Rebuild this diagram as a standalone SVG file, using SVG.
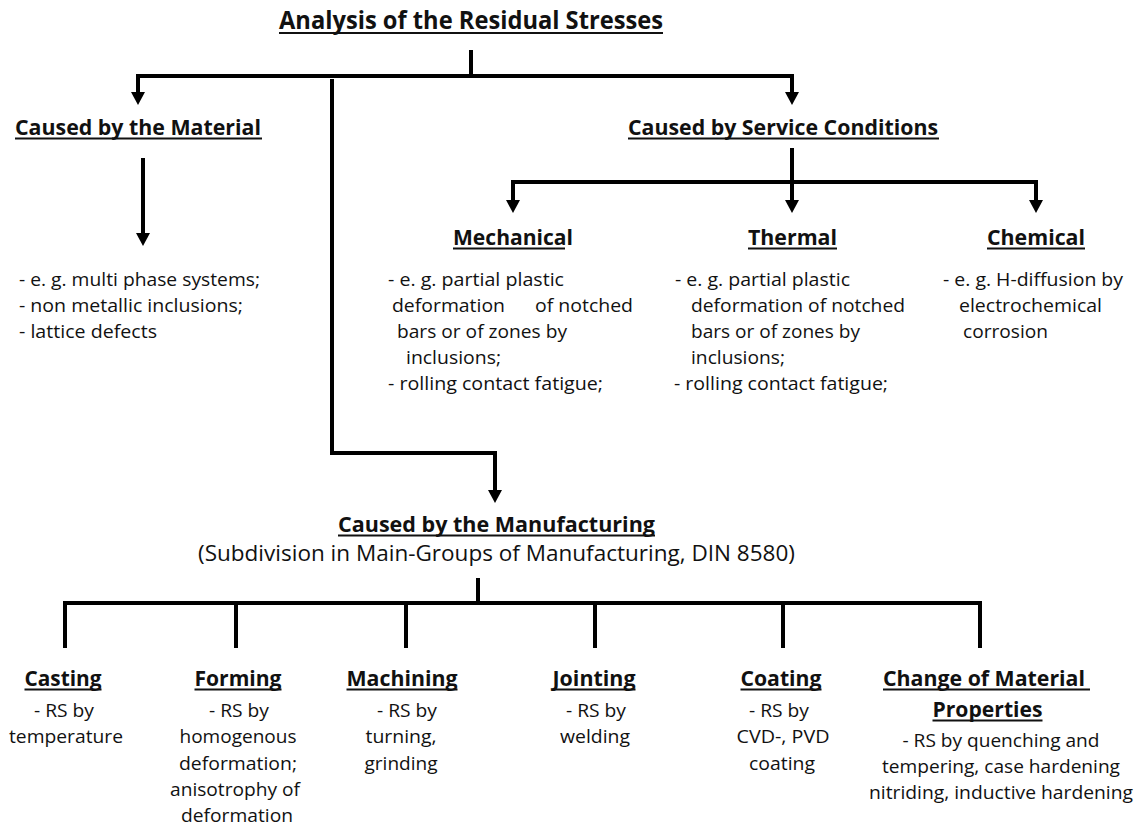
<svg xmlns="http://www.w3.org/2000/svg" width="1138" height="827" viewBox="0 0 1138 827">
<style>
text{font-family:"Open Sans","Liberation Sans",sans-serif;fill:#111}
.b{font-size:19px}
.h{font-size:22px;font-weight:bold}
.t{font-size:25px;font-weight:bold}
.s{font-size:22px}
.m{text-anchor:middle}
.u{stroke:#111;stroke-width:1.8}
.c{stroke:#000;stroke-width:4;fill:none;stroke-linejoin:miter}
</style>
<defs>
<marker id="ah" markerUnits="userSpaceOnUse" markerWidth="14" markerHeight="14" refX="0" refY="7" orient="auto" viewBox="0 0 14 14">
<path d="M0,0 L13,7 L0,14 z" fill="#000"/>
</marker>
</defs>
<rect width="1138" height="827" fill="#fff"/>

<g id="connectors">
<path class="c" d="M471,50 V76"/>
<path class="c" d="M471,76 H138 V92" marker-end="url(#ah)"/>
<path class="c" d="M471,76 H792 V92" marker-end="url(#ah)"/>
<path class="c" d="M143,158 V233" marker-end="url(#ah)"/>
<path class="c" d="M332,79 V453 H495 V490" marker-end="url(#ah)"/>
<path class="c" d="M792,148 V182"/>
<path class="c" d="M513,200 V182 H1036 V200" marker-end="url(#ah)"/>
<path class="c" d="M513,182 V200" marker-end="url(#ah)"/>
<path class="c" d="M792,182 V200" marker-end="url(#ah)"/>
<path class="c" d="M478,578 V603"/>
<path class="c" d="M65,648 V603 H980 V648"/>
<path class="c" d="M236,603 V648"/>
<path class="c" d="M406,603 V648"/>
<path class="c" d="M595,603 V648"/>
<path class="c" d="M783,603 V648"/>
</g>

<g id="title">
<text class="t" x="279" y="29" textLength="384" lengthAdjust="spacingAndGlyphs">Analysis of the Residual Stresses</text>
<line class="u" x1="279" y1="33" x2="663" y2="33"/>
</g>

<g id="material">
<text class="h" x="15" y="135" textLength="246" lengthAdjust="spacingAndGlyphs">Caused by the Material</text>
<line class="u" x1="15" y1="138.5" x2="262" y2="138.5"/>
<text class="b" x="19" y="286" textLength="241" lengthAdjust="spacingAndGlyphs">- e. g. multi phase systems;</text>
<text class="b" x="19" y="312" textLength="224" lengthAdjust="spacingAndGlyphs">- non metallic inclusions;</text>
<text class="b" x="19" y="338" textLength="138" lengthAdjust="spacingAndGlyphs">- lattice defects</text>
</g>

<g id="service">
<text class="h" x="628" y="135" textLength="310" lengthAdjust="spacingAndGlyphs">Caused by Service Conditions</text>
<line class="u" x1="628" y1="138.5" x2="939" y2="138.5"/>
</g>

<g id="mechanical">
<text class="h" x="453" y="245" textLength="120" lengthAdjust="spacingAndGlyphs">Mechanical</text>
<line class="u" x1="453" y1="248.5" x2="565" y2="248.5"/>
<text class="b" x="388" y="286" textLength="176" lengthAdjust="spacingAndGlyphs">- e. g. partial plastic</text>
<text class="b" x="392" y="312" textLength="113" lengthAdjust="spacingAndGlyphs">deformation</text>
<text class="b" x="535" y="312" textLength="98" lengthAdjust="spacingAndGlyphs">of notched</text>
<text class="b" x="397" y="338" textLength="170" lengthAdjust="spacingAndGlyphs">bars or of zones by</text>
<text class="b" x="406" y="364" textLength="95" lengthAdjust="spacingAndGlyphs">inclusions;</text>
<text class="b" x="388" y="390" textLength="215" lengthAdjust="spacingAndGlyphs">- rolling contact fatigue;</text>
</g>

<g id="thermal">
<text class="h" x="748" y="245" textLength="89" lengthAdjust="spacingAndGlyphs">Thermal</text>
<line class="u" x1="748" y1="248.5" x2="837" y2="248.5"/>
<text class="b" x="675" y="286" textLength="175" lengthAdjust="spacingAndGlyphs">- e. g. partial plastic</text>
<text class="b" x="691" y="312" textLength="214" lengthAdjust="spacingAndGlyphs">deformation of notched</text>
<text class="b" x="691" y="338" textLength="169" lengthAdjust="spacingAndGlyphs">bars or of zones by</text>
<text class="b" x="691" y="364" textLength="94" lengthAdjust="spacingAndGlyphs">inclusions;</text>
<text class="b" x="674" y="390" textLength="214" lengthAdjust="spacingAndGlyphs">- rolling contact fatigue;</text>
</g>

<g id="chemical">
<text class="h" x="987" y="245" textLength="98" lengthAdjust="spacingAndGlyphs">Chemical</text>
<line class="u" x1="987" y1="248.5" x2="1085" y2="248.5"/>
<text class="b" x="943" y="286" textLength="180" lengthAdjust="spacingAndGlyphs">- e. g. H-diffusion by</text>
<text class="b" x="959" y="312" textLength="143" lengthAdjust="spacingAndGlyphs">electrochemical</text>
<text class="b" x="963" y="338" textLength="85" lengthAdjust="spacingAndGlyphs">corrosion</text>
</g>

<g id="manufacturing">
<text class="h" x="338" y="532" textLength="317" lengthAdjust="spacingAndGlyphs">Caused by the Manufacturing</text>
<line class="u" x1="338" y1="535.5" x2="655" y2="535.5"/>
<text class="s" x="198" y="561" textLength="597" lengthAdjust="spacingAndGlyphs">(Subdivision in Main-Groups of Manufacturing, DIN 8580)</text>
</g>

<g id="casting">
<text class="h m" x="63" y="686" textLength="77" lengthAdjust="spacingAndGlyphs">Casting</text>
<line class="u" x1="24.5" y1="689.5" x2="101.5" y2="689.5"/>
<text class="b m" x="64" y="717" textLength="60" lengthAdjust="spacingAndGlyphs">- RS by</text>
<text class="b m" x="66" y="743" textLength="114" lengthAdjust="spacingAndGlyphs">temperature</text>
</g>

<g id="forming">
<text class="h m" x="238" y="686" textLength="87" lengthAdjust="spacingAndGlyphs">Forming</text>
<line class="u" x1="194.5" y1="689.5" x2="281.5" y2="689.5"/>
<text class="b m" x="239" y="717" textLength="60" lengthAdjust="spacingAndGlyphs">- RS by</text>
<text class="b m" x="238" y="743" textLength="117" lengthAdjust="spacingAndGlyphs">homogenous</text>
<text class="b m" x="238" y="770" textLength="118" lengthAdjust="spacingAndGlyphs">deformation;</text>
<text class="b m" x="235" y="796" textLength="130" lengthAdjust="spacingAndGlyphs">anisotrophy of</text>
<text class="b m" x="237" y="822" textLength="112" lengthAdjust="spacingAndGlyphs">deformation</text>
</g>

<g id="machining">
<text class="h m" x="402" y="686" textLength="111" lengthAdjust="spacingAndGlyphs">Machining</text>
<line class="u" x1="346.5" y1="689.5" x2="457.5" y2="689.5"/>
<text class="b m" x="407" y="717" textLength="60" lengthAdjust="spacingAndGlyphs">- RS by</text>
<text class="b m" x="401" y="743" textLength="71" lengthAdjust="spacingAndGlyphs">turning,</text>
<text class="b m" x="401" y="770" textLength="73" lengthAdjust="spacingAndGlyphs">grinding</text>
</g>

<g id="jointing">
<text class="h m" x="594" y="686" textLength="83" lengthAdjust="spacingAndGlyphs">Jointing</text>
<line class="u" x1="552.5" y1="689.5" x2="635.5" y2="689.5"/>
<text class="b m" x="596" y="717" textLength="60" lengthAdjust="spacingAndGlyphs">- RS by</text>
<text class="b m" x="595" y="743" textLength="70" lengthAdjust="spacingAndGlyphs">welding</text>
</g>

<g id="coating">
<text class="h m" x="781" y="686" textLength="81" lengthAdjust="spacingAndGlyphs">Coating</text>
<line class="u" x1="740.5" y1="689.5" x2="821.5" y2="689.5"/>
<text class="b m" x="779" y="717" textLength="60" lengthAdjust="spacingAndGlyphs">- RS by</text>
<text class="b m" x="783" y="743" textLength="93" lengthAdjust="spacingAndGlyphs">CVD-, PVD</text>
<text class="b m" x="782" y="770" textLength="66" lengthAdjust="spacingAndGlyphs">coating</text>
</g>

<g id="change">
<text class="h m" x="984" y="686" textLength="202" lengthAdjust="spacingAndGlyphs">Change of Material</text>
<line class="u" x1="883" y1="689.5" x2="1090" y2="689.5"/>
<text class="h m" x="987.5" y="717" textLength="110" lengthAdjust="spacingAndGlyphs">Properties</text>
<line class="u" x1="932.5" y1="720.5" x2="1042.5" y2="720.5"/>
<text class="b m" x="1001" y="747" textLength="197" lengthAdjust="spacingAndGlyphs">- RS by quenching and</text>
<text class="b m" x="1001" y="773" textLength="238" lengthAdjust="spacingAndGlyphs">tempering, case hardening</text>
<text class="b m" x="1001" y="799" textLength="264" lengthAdjust="spacingAndGlyphs">nitriding, inductive hardening</text>
</g>
</svg>
